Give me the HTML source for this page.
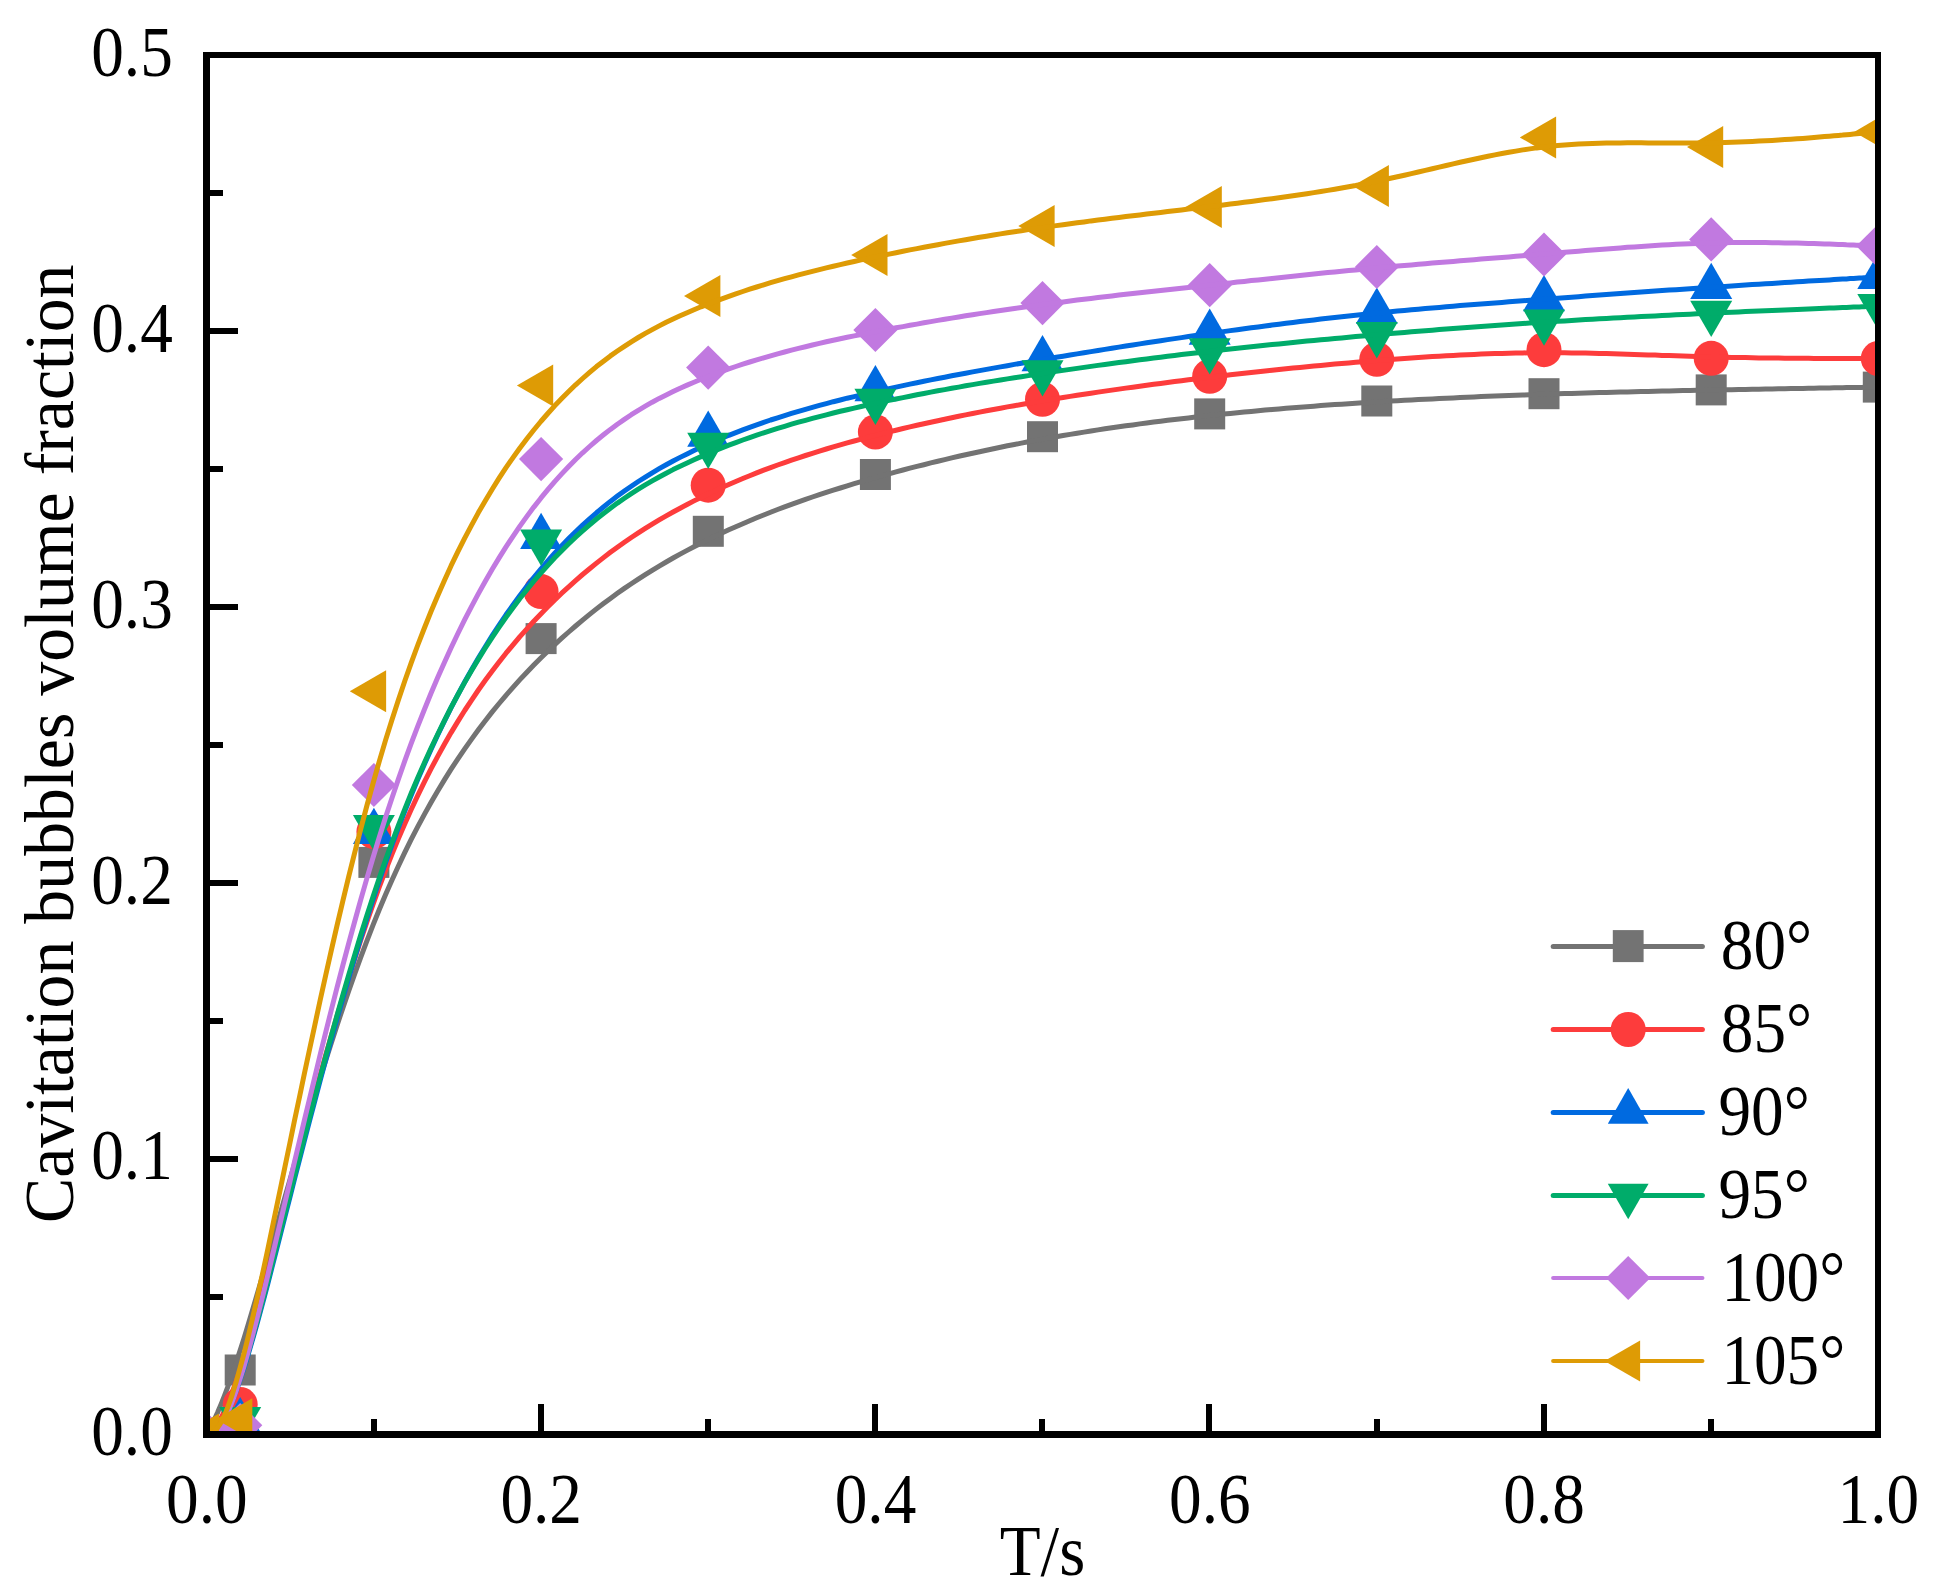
<!DOCTYPE html>
<html><head><meta charset="utf-8"><title>Cavitation bubbles volume fraction</title>
<style>html,body{margin:0;padding:0;background:#fff}svg{display:block}</style></head>
<body>
<svg width="1935" height="1592" viewBox="0 0 1935 1592">
<rect width="1935" height="1592" fill="#fff"/>
<defs><clipPath id="c"><rect x="206.5" y="55" width="1671.5" height="1379.5"/></clipPath></defs>
<g clip-path="url(#c)">
<rect x="191.3" y="1419.0" width="31" height="31" fill="#737373"/>
<rect x="224.7" y="1354.5" width="31" height="31" fill="#737373"/>
<rect x="358.4" y="846.9" width="31" height="31" fill="#737373"/>
<rect x="525.6" y="623.1" width="31" height="31" fill="#737373"/>
<rect x="692.8" y="515.8" width="31" height="31" fill="#737373"/>
<rect x="859.9" y="459.0" width="31" height="31" fill="#737373"/>
<rect x="1027.0" y="421.2" width="31" height="31" fill="#737373"/>
<rect x="1194.2" y="398.4" width="31" height="31" fill="#737373"/>
<rect x="1361.3" y="385.5" width="31" height="31" fill="#737373"/>
<rect x="1528.5" y="378.2" width="31" height="31" fill="#737373"/>
<rect x="1695.7" y="374.4" width="31" height="31" fill="#737373"/>
<rect x="1862.8" y="371.6" width="31" height="31" fill="#737373"/>
<path d="M206.5,1434.5 L206.5,1434.5 L206.5,1434.5 L206.5,1434.5 L206.5,1434.5 L206.6,1434.4 L206.6,1434.3 L206.6,1434.2 L206.7,1434.1 L206.8,1433.9 L206.9,1433.7 L207.0,1433.5 L207.2,1433.2 L207.4,1432.8 L207.6,1432.4 L207.9,1431.9 L208.2,1431.3 L208.5,1430.7 L208.9,1430.0 L209.3,1429.2 L209.7,1428.3 L210.2,1427.3 L210.8,1426.2 L211.4,1425.0 L212.1,1423.7 L212.8,1422.3 L213.6,1420.8 L214.4,1419.1 L215.4,1417.2 L216.4,1415.1 L217.5,1412.7 L218.6,1410.0 L219.9,1407.1 L221.3,1403.8 L222.7,1400.1 L224.3,1396.1 L226.0,1391.7 L227.8,1386.8 L229.7,1381.4 L231.8,1375.6 L233.9,1369.2 L236.3,1362.3 L238.7,1354.8 L241.3,1346.7 L244.1,1338.0 L247.0,1328.6 L250.0,1318.5 L253.2,1307.7 L256.6,1296.1 L260.2,1283.9 L264.0,1270.8 L267.9,1257.2 L271.9,1242.9 L276.1,1228.0 L280.5,1212.7 L285.0,1196.9 L289.7,1180.7 L294.4,1164.1 L299.4,1147.3 L304.4,1130.2 L309.6,1112.9 L314.9,1095.5 L320.2,1077.9 L325.7,1060.4 L331.3,1042.9 L337.0,1025.4 L342.8,1008.1 L348.7,991.0 L354.7,974.0 L360.7,957.4 L366.8,941.1 L373.0,925.2 L379.2,909.7 L385.5,894.7 L391.9,880.2 L398.3,866.2 L404.7,852.6 L411.2,839.4 L417.8,826.7 L424.4,814.4 L431.0,802.5 L437.7,791.0 L444.4,779.9 L451.1,769.2 L457.9,758.8 L464.7,748.8 L471.6,739.1 L478.4,729.8 L485.3,720.7 L492.2,711.9 L499.1,703.5 L506.0,695.3 L513.0,687.4 L519.9,679.7 L526.9,672.2 L533.8,665.0 L540.8,658.0 L547.8,651.2 L554.7,644.6 L561.7,638.2 L568.7,632.0 L575.6,626.0 L582.6,620.1 L589.6,614.4 L596.5,608.9 L603.5,603.5 L610.4,598.4 L617.4,593.3 L624.4,588.4 L631.3,583.7 L638.3,579.1 L645.3,574.6 L652.2,570.3 L659.2,566.1 L666.2,562.0 L673.1,558.0 L680.1,554.1 L687.1,550.4 L694.0,546.7 L701.0,543.2 L708.0,539.7 L714.9,536.3 L721.9,533.1 L728.8,529.8 L735.8,526.7 L742.8,523.7 L749.7,520.7 L756.7,517.8 L763.7,515.0 L770.6,512.2 L777.6,509.5 L784.6,506.9 L791.5,504.3 L798.5,501.8 L805.5,499.4 L812.4,497.0 L819.4,494.7 L826.3,492.4 L833.3,490.2 L840.3,488.0 L847.2,485.8 L854.2,483.7 L861.2,481.7 L868.1,479.7 L875.1,477.7 L882.1,475.7 L889.0,473.8 L896.0,471.9 L903.0,470.0 L909.9,468.2 L916.9,466.4 L923.9,464.7 L930.8,462.9 L937.8,461.2 L944.7,459.6 L951.7,457.9 L958.7,456.3 L965.6,454.7 L972.6,453.2 L979.6,451.7 L986.5,450.2 L993.5,448.7 L1000.5,447.3 L1007.4,445.8 L1014.4,444.5 L1021.4,443.1 L1028.3,441.8 L1035.3,440.5 L1042.2,439.2 L1049.2,438.0 L1056.2,436.7 L1063.1,435.5 L1070.1,434.4 L1077.1,433.2 L1084.0,432.1 L1091.0,431.0 L1098.0,429.9 L1104.9,428.8 L1111.9,427.8 L1118.9,426.8 L1125.8,425.8 L1132.8,424.9 L1139.8,423.9 L1146.7,423.0 L1153.7,422.1 L1160.6,421.2 L1167.6,420.3 L1174.6,419.5 L1181.5,418.7 L1188.5,417.9 L1195.5,417.1 L1202.4,416.3 L1209.4,415.5 L1216.4,414.8 L1223.3,414.1 L1230.3,413.4 L1237.3,412.7 L1244.2,412.0 L1251.2,411.4 L1258.2,410.7 L1265.1,410.1 L1272.1,409.5 L1279.0,408.9 L1286.0,408.3 L1293.0,407.8 L1299.9,407.2 L1306.9,406.7 L1313.9,406.2 L1320.8,405.6 L1327.8,405.1 L1334.8,404.6 L1341.7,404.2 L1348.7,403.7 L1355.7,403.2 L1362.6,402.8 L1369.6,402.4 L1376.5,401.9 L1383.5,401.5 L1390.5,401.1 L1397.4,400.7 L1404.4,400.3 L1411.4,399.9 L1418.3,399.6 L1425.3,399.2 L1432.3,398.9 L1439.2,398.5 L1446.2,398.2 L1453.2,397.9 L1460.1,397.5 L1467.1,397.2 L1474.1,396.9 L1481.0,396.6 L1488.0,396.3 L1494.9,396.1 L1501.9,395.8 L1508.9,395.5 L1515.8,395.3 L1522.8,395.0 L1529.8,394.8 L1536.7,394.5 L1543.7,394.3 L1550.7,394.1 L1557.6,393.8 L1564.6,393.6 L1571.6,393.4 L1578.5,393.2 L1585.5,393.0 L1592.5,392.8 L1599.4,392.6 L1606.4,392.4 L1613.3,392.2 L1620.3,392.1 L1627.3,391.9 L1634.2,391.7 L1641.2,391.6 L1648.2,391.4 L1655.1,391.2 L1662.1,391.1 L1669.1,390.9 L1676.0,390.8 L1683.0,390.6 L1690.0,390.5 L1696.9,390.3 L1703.9,390.2 L1710.8,390.1 L1717.8,389.9 L1724.8,389.8 L1731.7,389.7 L1738.6,389.5 L1745.4,389.4 L1752.2,389.3 L1758.9,389.2 L1765.5,389.0 L1772.1,388.9 L1778.5,388.8 L1784.8,388.7 L1790.9,388.6 L1797.0,388.5 L1802.8,388.4 L1808.5,388.3 L1814.0,388.2 L1819.3,388.1 L1824.5,388.0 L1829.4,387.9 L1834.0,387.8 L1838.4,387.8 L1842.6,387.7 L1846.5,387.6 L1850.1,387.6 L1853.5,387.5 L1856.5,387.5 L1859.3,387.4 L1861.9,387.4 L1864.2,387.3 L1866.2,387.3 L1868.1,387.3 L1869.7,387.2 L1871.2,387.2 L1872.5,387.2 L1873.6,387.2 L1874.5,387.2 L1875.3,387.1 L1876.0,387.1 L1876.5,387.1 L1877.0,387.1 L1877.3,387.1 L1877.6,387.1 L1877.7,387.1 L1877.9,387.1 L1877.9,387.1 L1878.0,387.1 L1878.0,387.1 L1878.0,387.1" fill="none" stroke="#737373" stroke-width="5" stroke-linejoin="round"/>
<circle cx="206.8" cy="1434.5" r="17.5" fill="#FD3C3C"/>
<circle cx="240.2" cy="1404.5" r="17.5" fill="#FD3C3C"/>
<circle cx="373.9" cy="831.7" r="17.5" fill="#FD3C3C"/>
<circle cx="541.1" cy="591.6" r="17.5" fill="#FD3C3C"/>
<circle cx="708.2" cy="485.2" r="17.5" fill="#FD3C3C"/>
<circle cx="875.4" cy="432.0" r="17.5" fill="#FD3C3C"/>
<circle cx="1042.5" cy="399.3" r="17.5" fill="#FD3C3C"/>
<circle cx="1209.7" cy="376.3" r="17.5" fill="#FD3C3C"/>
<circle cx="1376.8" cy="359.3" r="17.5" fill="#FD3C3C"/>
<circle cx="1544.0" cy="349.7" r="17.5" fill="#FD3C3C"/>
<circle cx="1711.2" cy="358.3" r="17.5" fill="#FD3C3C"/>
<circle cx="1878.3" cy="358.5" r="17.5" fill="#FD3C3C"/>
<path d="M206.5,1434.5 L206.5,1434.5 L206.5,1434.5 L206.5,1434.5 L206.5,1434.5 L206.6,1434.5 L206.6,1434.4 L206.6,1434.4 L206.7,1434.3 L206.8,1434.2 L206.9,1434.1 L207.0,1434.0 L207.2,1433.9 L207.4,1433.7 L207.6,1433.5 L207.9,1433.3 L208.2,1433.0 L208.5,1432.7 L208.9,1432.4 L209.3,1432.0 L209.7,1431.6 L210.2,1431.2 L210.8,1430.6 L211.4,1430.1 L212.1,1429.5 L212.8,1428.8 L213.6,1428.1 L214.4,1427.2 L215.4,1426.2 L216.4,1425.0 L217.5,1423.5 L218.6,1421.7 L219.9,1419.7 L221.3,1417.3 L222.7,1414.5 L224.3,1411.2 L226.0,1407.6 L227.8,1403.4 L229.7,1398.7 L231.8,1393.4 L233.9,1387.5 L236.3,1381.0 L238.7,1373.8 L241.3,1365.8 L244.1,1357.1 L247.0,1347.6 L250.0,1337.3 L253.2,1326.1 L256.6,1314.0 L260.2,1301.0 L264.0,1287.1 L267.9,1272.4 L271.9,1256.9 L276.1,1240.8 L280.5,1224.0 L285.0,1206.7 L289.7,1188.8 L294.4,1170.5 L299.4,1151.9 L304.4,1132.9 L309.6,1113.7 L314.9,1094.3 L320.2,1074.8 L325.7,1055.3 L331.3,1035.7 L337.0,1016.2 L342.8,996.9 L348.7,977.7 L354.7,958.8 L360.7,940.3 L366.8,922.1 L373.0,904.4 L379.2,887.1 L385.5,870.5 L391.9,854.4 L398.3,838.9 L404.7,823.9 L411.2,809.4 L417.8,795.4 L424.4,781.9 L431.0,768.9 L437.7,756.4 L444.4,744.3 L451.1,732.6 L457.9,721.4 L464.7,710.5 L471.6,700.1 L478.4,690.0 L485.3,680.3 L492.2,670.9 L499.1,661.9 L506.0,653.2 L513.0,644.8 L519.9,636.6 L526.9,628.8 L533.8,621.2 L540.8,613.9 L547.8,606.8 L554.7,599.9 L561.7,593.2 L568.7,586.8 L575.6,580.6 L582.6,574.5 L589.6,568.7 L596.5,563.1 L603.5,557.6 L610.4,552.3 L617.4,547.2 L624.4,542.3 L631.3,537.5 L638.3,532.9 L645.3,528.4 L652.2,524.1 L659.2,519.9 L666.2,515.9 L673.1,512.0 L680.1,508.2 L687.1,504.5 L694.0,500.9 L701.0,497.4 L708.0,494.1 L714.9,490.8 L721.9,487.6 L728.8,484.5 L735.8,481.5 L742.8,478.5 L749.7,475.7 L756.7,472.9 L763.7,470.2 L770.6,467.6 L777.6,465.0 L784.6,462.6 L791.5,460.1 L798.5,457.8 L805.5,455.5 L812.4,453.3 L819.4,451.1 L826.3,449.0 L833.3,446.9 L840.3,444.9 L847.2,442.9 L854.2,441.0 L861.2,439.1 L868.1,437.2 L875.1,435.4 L882.1,433.6 L889.0,431.9 L896.0,430.2 L903.0,428.5 L909.9,426.9 L916.9,425.3 L923.9,423.7 L930.8,422.2 L937.8,420.7 L944.7,419.2 L951.7,417.7 L958.7,416.3 L965.6,414.9 L972.6,413.5 L979.6,412.1 L986.5,410.8 L993.5,409.5 L1000.5,408.2 L1007.4,406.9 L1014.4,405.7 L1021.4,404.5 L1028.3,403.3 L1035.3,402.1 L1042.2,400.9 L1049.2,399.8 L1056.2,398.6 L1063.1,397.5 L1070.1,396.4 L1077.1,395.3 L1084.0,394.2 L1091.0,393.2 L1098.0,392.1 L1104.9,391.1 L1111.9,390.1 L1118.9,389.1 L1125.8,388.1 L1132.8,387.2 L1139.8,386.2 L1146.7,385.3 L1153.7,384.3 L1160.6,383.4 L1167.6,382.5 L1174.6,381.6 L1181.5,380.7 L1188.5,379.8 L1195.5,379.0 L1202.4,378.1 L1209.4,377.3 L1216.4,376.5 L1223.3,375.7 L1230.3,374.8 L1237.3,374.1 L1244.2,373.3 L1251.2,372.5 L1258.2,371.7 L1265.1,371.0 L1272.1,370.2 L1279.0,369.5 L1286.0,368.8 L1293.0,368.1 L1299.9,367.4 L1306.9,366.7 L1313.9,366.0 L1320.8,365.4 L1327.8,364.7 L1334.8,364.1 L1341.7,363.5 L1348.7,362.9 L1355.7,362.3 L1362.6,361.7 L1369.6,361.1 L1376.5,360.5 L1383.5,360.0 L1390.5,359.5 L1397.4,358.9 L1404.4,358.4 L1411.4,357.9 L1418.3,357.5 L1425.3,357.0 L1432.3,356.6 L1439.2,356.2 L1446.2,355.8 L1453.2,355.4 L1460.1,355.0 L1467.1,354.7 L1474.1,354.4 L1481.0,354.1 L1488.0,353.8 L1494.9,353.6 L1501.9,353.4 L1508.9,353.2 L1515.8,353.1 L1522.8,352.9 L1529.8,352.8 L1536.7,352.8 L1543.7,352.7 L1550.7,352.7 L1557.6,352.8 L1564.6,352.8 L1571.6,352.9 L1578.5,353.0 L1585.5,353.1 L1592.5,353.3 L1599.4,353.4 L1606.4,353.6 L1613.3,353.8 L1620.3,354.0 L1627.3,354.2 L1634.2,354.4 L1641.2,354.7 L1648.2,354.9 L1655.1,355.1 L1662.1,355.4 L1669.1,355.6 L1676.0,355.8 L1683.0,356.1 L1690.0,356.3 L1696.9,356.5 L1703.9,356.7 L1710.8,356.9 L1717.8,357.1 L1724.8,357.2 L1731.7,357.4 L1738.6,357.5 L1745.4,357.6 L1752.2,357.8 L1758.9,357.9 L1765.5,358.0 L1772.1,358.0 L1778.5,358.1 L1784.8,358.2 L1790.9,358.2 L1797.0,358.3 L1802.8,358.3 L1808.5,358.3 L1814.0,358.4 L1819.3,358.4 L1824.5,358.4 L1829.4,358.4 L1834.0,358.4 L1838.4,358.4 L1842.6,358.5 L1846.5,358.5 L1850.1,358.5 L1853.5,358.5 L1856.5,358.5 L1859.3,358.5 L1861.9,358.5 L1864.2,358.5 L1866.2,358.5 L1868.1,358.5 L1869.7,358.5 L1871.2,358.5 L1872.5,358.5 L1873.6,358.5 L1874.5,358.5 L1875.3,358.5 L1876.0,358.5 L1876.5,358.5 L1877.0,358.5 L1877.3,358.5 L1877.6,358.5 L1877.7,358.5 L1877.9,358.5 L1877.9,358.5 L1878.0,358.5 L1878.0,358.5 L1878.0,358.5" fill="none" stroke="#FD3C3C" stroke-width="5" stroke-linejoin="round"/>
<polygon points="206.8,1410.3 185.8,1446.6 227.8,1446.6" fill="#006AE0"/>
<polygon points="240.2,1397.0 219.2,1433.3 261.2,1433.3" fill="#006AE0"/>
<polygon points="373.9,807.8 352.9,844.1 394.9,844.1" fill="#006AE0"/>
<polygon points="541.1,512.8 520.1,549.1 562.1,549.1" fill="#006AE0"/>
<polygon points="708.2,410.5 687.2,446.8 729.2,446.8" fill="#006AE0"/>
<polygon points="875.4,364.9 854.4,401.2 896.4,401.2" fill="#006AE0"/>
<polygon points="1042.5,334.9 1021.5,371.2 1063.5,371.2" fill="#006AE0"/>
<polygon points="1209.7,308.4 1188.7,344.7 1230.7,344.7" fill="#006AE0"/>
<polygon points="1376.8,287.5 1355.8,323.8 1397.8,323.8" fill="#006AE0"/>
<polygon points="1544.0,275.0 1523.0,311.3 1565.0,311.3" fill="#006AE0"/>
<polygon points="1711.2,262.7 1690.2,299.0 1732.2,299.0" fill="#006AE0"/>
<polygon points="1878.3,252.8 1857.3,289.1 1899.3,289.1" fill="#006AE0"/>
<path d="M206.5,1434.5 L206.5,1434.5 L206.5,1434.5 L206.5,1434.5 L206.5,1434.5 L206.6,1434.5 L206.6,1434.5 L206.6,1434.4 L206.7,1434.4 L206.8,1434.4 L206.9,1434.3 L207.0,1434.3 L207.2,1434.2 L207.4,1434.1 L207.6,1434.1 L207.9,1434.0 L208.2,1433.8 L208.5,1433.7 L208.9,1433.6 L209.3,1433.4 L209.7,1433.2 L210.2,1433.0 L210.8,1432.8 L211.4,1432.5 L212.1,1432.3 L212.8,1432.0 L213.6,1431.6 L214.4,1431.2 L215.4,1430.6 L216.4,1429.8 L217.5,1428.7 L218.6,1427.5 L219.9,1425.9 L221.3,1423.9 L222.7,1421.6 L224.3,1418.8 L226.0,1415.6 L227.8,1411.8 L229.7,1407.5 L231.8,1402.6 L233.9,1397.1 L236.3,1390.9 L238.7,1384.0 L241.3,1376.3 L244.1,1367.9 L247.0,1358.6 L250.0,1348.4 L253.2,1337.3 L256.6,1325.2 L260.2,1312.2 L264.0,1298.2 L267.9,1283.3 L271.9,1267.7 L276.1,1251.3 L280.5,1234.2 L285.0,1216.5 L289.7,1198.2 L294.4,1179.4 L299.4,1160.2 L304.4,1140.6 L309.6,1120.7 L314.9,1100.6 L320.2,1080.3 L325.7,1059.9 L331.3,1039.4 L337.0,1018.9 L342.8,998.5 L348.7,978.2 L354.7,958.1 L360.7,938.3 L366.8,918.8 L373.0,899.7 L379.2,881.0 L385.5,862.9 L391.9,845.2 L398.3,828.0 L404.7,811.4 L411.2,795.2 L417.8,779.4 L424.4,764.2 L431.0,749.4 L437.7,735.0 L444.4,721.1 L451.1,707.7 L457.9,694.6 L464.7,682.0 L471.6,669.8 L478.4,658.1 L485.3,646.7 L492.2,635.7 L499.1,625.1 L506.0,614.8 L513.0,605.0 L519.9,595.5 L526.9,586.3 L533.8,577.6 L540.8,569.1 L547.8,561.0 L554.7,553.2 L561.7,545.7 L568.7,538.6 L575.6,531.7 L582.6,525.1 L589.6,518.8 L596.5,512.8 L603.5,507.0 L610.4,501.4 L617.4,496.1 L624.4,491.0 L631.3,486.2 L638.3,481.5 L645.3,477.1 L652.2,472.8 L659.2,468.7 L666.2,464.8 L673.1,461.0 L680.1,457.4 L687.1,453.9 L694.0,450.5 L701.0,447.3 L708.0,444.1 L714.9,441.1 L721.9,438.2 L728.8,435.3 L735.8,432.6 L742.8,429.9 L749.7,427.3 L756.7,424.8 L763.7,422.4 L770.6,420.0 L777.6,417.8 L784.6,415.6 L791.5,413.4 L798.5,411.3 L805.5,409.3 L812.4,407.3 L819.4,405.4 L826.3,403.6 L833.3,401.7 L840.3,400.0 L847.2,398.2 L854.2,396.6 L861.2,394.9 L868.1,393.3 L875.1,391.7 L882.1,390.1 L889.0,388.6 L896.0,387.1 L903.0,385.6 L909.9,384.1 L916.9,382.7 L923.9,381.3 L930.8,379.9 L937.8,378.5 L944.7,377.2 L951.7,375.8 L958.7,374.5 L965.6,373.2 L972.6,371.9 L979.6,370.6 L986.5,369.4 L993.5,368.1 L1000.5,366.9 L1007.4,365.7 L1014.4,364.4 L1021.4,363.2 L1028.3,362.1 L1035.3,360.9 L1042.2,359.7 L1049.2,358.5 L1056.2,357.3 L1063.1,356.2 L1070.1,355.0 L1077.1,353.9 L1084.0,352.7 L1091.0,351.6 L1098.0,350.5 L1104.9,349.4 L1111.9,348.2 L1118.9,347.1 L1125.8,346.0 L1132.8,345.0 L1139.8,343.9 L1146.7,342.8 L1153.7,341.7 L1160.6,340.7 L1167.6,339.6 L1174.6,338.6 L1181.5,337.6 L1188.5,336.5 L1195.5,335.5 L1202.4,334.5 L1209.4,333.5 L1216.4,332.6 L1223.3,331.6 L1230.3,330.6 L1237.3,329.7 L1244.2,328.7 L1251.2,327.8 L1258.2,326.9 L1265.1,326.0 L1272.1,325.1 L1279.0,324.2 L1286.0,323.3 L1293.0,322.4 L1299.9,321.6 L1306.9,320.8 L1313.9,319.9 L1320.8,319.1 L1327.8,318.3 L1334.8,317.5 L1341.7,316.8 L1348.7,316.0 L1355.7,315.3 L1362.6,314.5 L1369.6,313.8 L1376.5,313.1 L1383.5,312.4 L1390.5,311.7 L1397.4,311.1 L1404.4,310.4 L1411.4,309.8 L1418.3,309.2 L1425.3,308.6 L1432.3,307.9 L1439.2,307.4 L1446.2,306.8 L1453.2,306.2 L1460.1,305.6 L1467.1,305.1 L1474.1,304.5 L1481.0,304.0 L1488.0,303.4 L1494.9,302.9 L1501.9,302.4 L1508.9,301.8 L1515.8,301.3 L1522.8,300.8 L1529.8,300.3 L1536.7,299.8 L1543.7,299.2 L1550.7,298.7 L1557.6,298.2 L1564.6,297.7 L1571.6,297.2 L1578.5,296.7 L1585.5,296.1 L1592.5,295.6 L1599.4,295.1 L1606.4,294.6 L1613.3,294.1 L1620.3,293.6 L1627.3,293.1 L1634.2,292.6 L1641.2,292.1 L1648.2,291.6 L1655.1,291.1 L1662.1,290.6 L1669.1,290.1 L1676.0,289.7 L1683.0,289.2 L1690.0,288.7 L1696.9,288.2 L1703.9,287.8 L1710.8,287.3 L1717.8,286.8 L1724.8,286.4 L1731.7,285.9 L1738.6,285.5 L1745.4,285.1 L1752.2,284.6 L1758.9,284.2 L1765.5,283.8 L1772.1,283.4 L1778.5,283.0 L1784.8,282.6 L1790.9,282.2 L1797.0,281.8 L1802.8,281.5 L1808.5,281.1 L1814.0,280.8 L1819.3,280.5 L1824.5,280.2 L1829.4,279.9 L1834.0,279.6 L1838.4,279.3 L1842.6,279.1 L1846.5,278.9 L1850.1,278.6 L1853.5,278.5 L1856.5,278.3 L1859.3,278.1 L1861.9,278.0 L1864.2,277.8 L1866.2,277.7 L1868.1,277.6 L1869.7,277.5 L1871.2,277.4 L1872.5,277.3 L1873.6,277.3 L1874.5,277.2 L1875.3,277.2 L1876.0,277.1 L1876.5,277.1 L1877.0,277.1 L1877.3,277.0 L1877.6,277.0 L1877.7,277.0 L1877.9,277.0 L1877.9,277.0 L1878.0,277.0 L1878.0,277.0 L1878.0,277.0" fill="none" stroke="#006AE0" stroke-width="5" stroke-linejoin="round"/>
<polygon points="206.8,1458.7 185.8,1422.4 227.8,1422.4" fill="#00AC6A"/>
<polygon points="240.2,1443.3 219.2,1407.0 261.2,1407.0" fill="#00AC6A"/>
<polygon points="373.9,851.3 352.9,815.0 394.9,815.0" fill="#00AC6A"/>
<polygon points="541.1,565.9 520.1,529.6 562.1,529.6" fill="#00AC6A"/>
<polygon points="708.2,469.0 687.2,432.7 729.2,432.7" fill="#00AC6A"/>
<polygon points="875.4,425.0 854.4,388.7 896.4,388.7" fill="#00AC6A"/>
<polygon points="1042.5,396.6 1021.5,360.3 1063.5,360.3" fill="#00AC6A"/>
<polygon points="1209.7,374.6 1188.7,338.3 1230.7,338.3" fill="#00AC6A"/>
<polygon points="1376.8,358.4 1355.8,322.1 1397.8,322.1" fill="#00AC6A"/>
<polygon points="1544.0,345.7 1523.0,309.4 1565.0,309.4" fill="#00AC6A"/>
<polygon points="1711.2,337.1 1690.2,300.8 1732.2,300.8" fill="#00AC6A"/>
<polygon points="1878.3,330.3 1857.3,294.0 1899.3,294.0" fill="#00AC6A"/>
<path d="M206.5,1434.5 L206.5,1434.5 L206.5,1434.5 L206.5,1434.5 L206.5,1434.5 L206.6,1434.5 L206.6,1434.5 L206.6,1434.4 L206.7,1434.4 L206.8,1434.4 L206.9,1434.3 L207.0,1434.3 L207.2,1434.2 L207.4,1434.1 L207.6,1434.0 L207.9,1433.9 L208.2,1433.7 L208.5,1433.6 L208.9,1433.4 L209.3,1433.2 L209.7,1433.0 L210.2,1432.8 L210.8,1432.5 L211.4,1432.2 L212.1,1431.9 L212.8,1431.6 L213.6,1431.2 L214.4,1430.7 L215.4,1430.0 L216.4,1429.1 L217.5,1428.1 L218.6,1426.7 L219.9,1425.0 L221.3,1423.0 L222.7,1420.6 L224.3,1417.8 L226.0,1414.5 L227.8,1410.6 L229.7,1406.3 L231.8,1401.3 L233.9,1395.7 L236.3,1389.4 L238.7,1382.4 L241.3,1374.6 L244.1,1366.0 L247.0,1356.6 L250.0,1346.4 L253.2,1335.2 L256.6,1323.0 L260.2,1309.9 L264.0,1295.8 L267.9,1280.8 L271.9,1265.1 L276.1,1248.5 L280.5,1231.4 L285.0,1213.5 L289.7,1195.2 L294.4,1176.3 L299.4,1157.1 L304.4,1137.4 L309.6,1117.5 L314.9,1097.3 L320.2,1077.0 L325.7,1056.5 L331.3,1036.0 L337.0,1015.5 L342.8,995.2 L348.7,974.9 L354.7,954.9 L360.7,935.1 L366.8,915.7 L373.0,896.7 L379.2,878.2 L385.5,860.2 L391.9,842.7 L398.3,825.7 L404.7,809.3 L411.2,793.3 L417.8,777.8 L424.4,762.8 L431.0,748.3 L437.7,734.2 L444.4,720.6 L451.1,707.4 L457.9,694.7 L464.7,682.4 L471.6,670.5 L478.4,659.1 L485.3,648.0 L492.2,637.4 L499.1,627.1 L506.0,617.2 L513.0,607.7 L519.9,598.5 L526.9,589.7 L533.8,581.2 L540.8,573.1 L547.8,565.3 L554.7,557.8 L561.7,550.7 L568.7,543.8 L575.6,537.2 L582.6,530.9 L589.6,524.8 L596.5,519.0 L603.5,513.5 L610.4,508.2 L617.4,503.1 L624.4,498.3 L631.3,493.6 L638.3,489.2 L645.3,484.9 L652.2,480.9 L659.2,477.0 L666.2,473.2 L673.1,469.6 L680.1,466.2 L687.1,462.9 L694.0,459.7 L701.0,456.6 L708.0,453.6 L714.9,450.7 L721.9,447.9 L728.8,445.2 L735.8,442.6 L742.8,440.0 L749.7,437.6 L756.7,435.2 L763.7,432.8 L770.6,430.6 L777.6,428.4 L784.6,426.3 L791.5,424.2 L798.5,422.2 L805.5,420.3 L812.4,418.4 L819.4,416.6 L826.3,414.8 L833.3,413.0 L840.3,411.3 L847.2,409.7 L854.2,408.1 L861.2,406.5 L868.1,404.9 L875.1,403.4 L882.1,401.9 L889.0,400.4 L896.0,399.0 L903.0,397.6 L909.9,396.2 L916.9,394.8 L923.9,393.5 L930.8,392.1 L937.8,390.8 L944.7,389.6 L951.7,388.3 L958.7,387.1 L965.6,385.8 L972.6,384.6 L979.6,383.4 L986.5,382.3 L993.5,381.1 L1000.5,380.0 L1007.4,378.9 L1014.4,377.8 L1021.4,376.7 L1028.3,375.6 L1035.3,374.5 L1042.2,373.5 L1049.2,372.4 L1056.2,371.4 L1063.1,370.4 L1070.1,369.4 L1077.1,368.4 L1084.0,367.4 L1091.0,366.4 L1098.0,365.4 L1104.9,364.5 L1111.9,363.5 L1118.9,362.6 L1125.8,361.7 L1132.8,360.7 L1139.8,359.8 L1146.7,358.9 L1153.7,358.1 L1160.6,357.2 L1167.6,356.3 L1174.6,355.5 L1181.5,354.6 L1188.5,353.8 L1195.5,353.0 L1202.4,352.2 L1209.4,351.4 L1216.4,350.6 L1223.3,349.8 L1230.3,349.0 L1237.3,348.3 L1244.2,347.5 L1251.2,346.8 L1258.2,346.0 L1265.1,345.3 L1272.1,344.6 L1279.0,343.9 L1286.0,343.2 L1293.0,342.5 L1299.9,341.8 L1306.9,341.1 L1313.9,340.5 L1320.8,339.8 L1327.8,339.2 L1334.8,338.5 L1341.7,337.9 L1348.7,337.2 L1355.7,336.6 L1362.6,336.0 L1369.6,335.4 L1376.5,334.8 L1383.5,334.2 L1390.5,333.6 L1397.4,333.0 L1404.4,332.4 L1411.4,331.8 L1418.3,331.3 L1425.3,330.7 L1432.3,330.2 L1439.2,329.6 L1446.2,329.1 L1453.2,328.5 L1460.1,328.0 L1467.1,327.5 L1474.1,327.0 L1481.0,326.5 L1488.0,326.0 L1494.9,325.5 L1501.9,325.0 L1508.9,324.5 L1515.8,324.0 L1522.8,323.5 L1529.8,323.1 L1536.7,322.6 L1543.7,322.2 L1550.7,321.7 L1557.6,321.3 L1564.6,320.9 L1571.6,320.5 L1578.5,320.1 L1585.5,319.6 L1592.5,319.2 L1599.4,318.8 L1606.4,318.5 L1613.3,318.1 L1620.3,317.7 L1627.3,317.3 L1634.2,317.0 L1641.2,316.6 L1648.2,316.2 L1655.1,315.9 L1662.1,315.5 L1669.1,315.2 L1676.0,314.8 L1683.0,314.5 L1690.0,314.2 L1696.9,313.8 L1703.9,313.5 L1710.8,313.2 L1717.8,312.9 L1724.8,312.6 L1731.7,312.3 L1738.6,311.9 L1745.4,311.6 L1752.2,311.3 L1758.9,311.1 L1765.5,310.8 L1772.1,310.5 L1778.5,310.2 L1784.8,309.9 L1790.9,309.7 L1797.0,309.4 L1802.8,309.2 L1808.5,308.9 L1814.0,308.7 L1819.3,308.5 L1824.5,308.3 L1829.4,308.1 L1834.0,307.9 L1838.4,307.7 L1842.6,307.5 L1846.5,307.4 L1850.1,307.2 L1853.5,307.1 L1856.5,307.0 L1859.3,306.9 L1861.9,306.8 L1864.2,306.7 L1866.2,306.6 L1868.1,306.5 L1869.7,306.4 L1871.2,306.4 L1872.5,306.3 L1873.6,306.3 L1874.5,306.2 L1875.3,306.2 L1876.0,306.2 L1876.5,306.2 L1877.0,306.1 L1877.3,306.1 L1877.6,306.1 L1877.7,306.1 L1877.9,306.1 L1877.9,306.1 L1878.0,306.1 L1878.0,306.1 L1878.0,306.1" fill="none" stroke="#00AC6A" stroke-width="5" stroke-linejoin="round"/>
<polygon points="206.8,1412.4 228.9,1434.5 206.8,1456.6 184.7,1434.5" fill="#C179E0"/>
<polygon points="240.2,1403.1 262.3,1425.2 240.2,1447.3 218.1,1425.2" fill="#C179E0"/>
<polygon points="373.9,762.9 396.1,785.0 373.9,807.1 351.8,785.0" fill="#C179E0"/>
<polygon points="541.1,437.0 563.2,459.1 541.1,481.2 519.0,459.1" fill="#C179E0"/>
<polygon points="708.2,345.5 730.4,367.6 708.2,389.7 686.1,367.6" fill="#C179E0"/>
<polygon points="875.4,307.9 897.5,330.0 875.4,352.1 853.3,330.0" fill="#C179E0"/>
<polygon points="1042.5,281.0 1064.6,303.1 1042.5,325.2 1020.4,303.1" fill="#C179E0"/>
<polygon points="1209.7,263.1 1231.8,285.2 1209.7,307.3 1187.6,285.2" fill="#C179E0"/>
<polygon points="1376.8,244.9 1398.9,267.0 1376.8,289.1 1354.8,267.0" fill="#C179E0"/>
<polygon points="1544.0,232.4 1566.1,254.5 1544.0,276.6 1521.9,254.5" fill="#C179E0"/>
<polygon points="1711.2,217.3 1733.2,239.4 1711.2,261.5 1689.1,239.4" fill="#C179E0"/>
<polygon points="1878.3,223.9 1900.4,246.0 1878.3,268.1 1856.2,246.0" fill="#C179E0"/>
<path d="M206.5,1434.5 L206.5,1434.5 L206.5,1434.5 L206.5,1434.5 L206.5,1434.5 L206.6,1434.5 L206.6,1434.5 L206.6,1434.5 L206.7,1434.4 L206.8,1434.4 L206.9,1434.4 L207.0,1434.4 L207.2,1434.3 L207.4,1434.3 L207.6,1434.2 L207.9,1434.1 L208.2,1434.0 L208.5,1433.9 L208.9,1433.8 L209.3,1433.7 L209.7,1433.6 L210.2,1433.5 L210.8,1433.3 L211.4,1433.1 L212.1,1432.9 L212.8,1432.7 L213.6,1432.5 L214.4,1432.1 L215.4,1431.6 L216.4,1430.8 L217.5,1429.9 L218.6,1428.6 L219.9,1427.0 L221.3,1425.1 L222.7,1422.7 L224.3,1419.9 L226.0,1416.5 L227.8,1412.6 L229.7,1408.1 L231.8,1402.9 L233.9,1397.1 L236.3,1390.5 L238.7,1383.1 L241.3,1375.0 L244.1,1365.9 L247.0,1355.9 L250.0,1345.0 L253.2,1333.0 L256.6,1320.0 L260.2,1306.0 L264.0,1290.9 L267.9,1274.8 L271.9,1257.9 L276.1,1240.1 L280.5,1221.6 L285.0,1202.4 L289.7,1182.6 L294.4,1162.2 L299.4,1141.4 L304.4,1120.1 L309.6,1098.5 L314.9,1076.6 L320.2,1054.5 L325.7,1032.3 L331.3,1010.0 L337.0,987.7 L342.8,965.5 L348.7,943.4 L354.7,921.5 L360.7,899.9 L366.8,878.6 L373.0,857.8 L379.2,837.4 L385.5,817.5 L391.9,798.2 L398.3,779.4 L404.7,761.2 L411.2,743.4 L417.8,726.2 L424.4,709.5 L431.0,693.3 L437.7,677.6 L444.4,662.4 L451.1,647.7 L457.9,633.5 L464.7,619.7 L471.6,606.4 L478.4,593.6 L485.3,581.2 L492.2,569.3 L499.1,557.9 L506.0,546.9 L513.0,536.3 L519.9,526.1 L526.9,516.4 L533.8,507.1 L540.8,498.2 L547.8,489.7 L554.7,481.6 L561.7,473.9 L568.7,466.5 L575.6,459.5 L582.6,452.8 L589.6,446.5 L596.5,440.5 L603.5,434.8 L610.4,429.4 L617.4,424.2 L624.4,419.4 L631.3,414.7 L638.3,410.3 L645.3,406.2 L652.2,402.2 L659.2,398.4 L666.2,394.9 L673.1,391.5 L680.1,388.2 L687.1,385.1 L694.0,382.2 L701.0,379.3 L708.0,376.6 L714.9,373.9 L721.9,371.4 L728.8,368.9 L735.8,366.5 L742.8,364.2 L749.7,362.0 L756.7,359.9 L763.7,357.8 L770.6,355.8 L777.6,353.8 L784.6,352.0 L791.5,350.1 L798.5,348.4 L805.5,346.7 L812.4,345.0 L819.4,343.4 L826.3,341.8 L833.3,340.3 L840.3,338.8 L847.2,337.3 L854.2,335.9 L861.2,334.5 L868.1,333.1 L875.1,331.8 L882.1,330.4 L889.0,329.1 L896.0,327.8 L903.0,326.6 L909.9,325.3 L916.9,324.1 L923.9,322.8 L930.8,321.6 L937.8,320.4 L944.7,319.3 L951.7,318.1 L958.7,317.0 L965.6,315.8 L972.6,314.7 L979.6,313.6 L986.5,312.6 L993.5,311.5 L1000.5,310.5 L1007.4,309.5 L1014.4,308.5 L1021.4,307.5 L1028.3,306.5 L1035.3,305.5 L1042.2,304.6 L1049.2,303.7 L1056.2,302.8 L1063.1,301.9 L1070.1,301.0 L1077.1,300.1 L1084.0,299.3 L1091.0,298.4 L1098.0,297.6 L1104.9,296.8 L1111.9,295.9 L1118.9,295.1 L1125.8,294.3 L1132.8,293.5 L1139.8,292.8 L1146.7,292.0 L1153.7,291.2 L1160.6,290.4 L1167.6,289.7 L1174.6,288.9 L1181.5,288.2 L1188.5,287.4 L1195.5,286.7 L1202.4,285.9 L1209.4,285.1 L1216.4,284.4 L1223.3,283.6 L1230.3,282.9 L1237.3,282.1 L1244.2,281.4 L1251.2,280.6 L1258.2,279.9 L1265.1,279.2 L1272.1,278.4 L1279.0,277.7 L1286.0,276.9 L1293.0,276.2 L1299.9,275.5 L1306.9,274.8 L1313.9,274.1 L1320.8,273.3 L1327.8,272.6 L1334.8,271.9 L1341.7,271.3 L1348.7,270.6 L1355.7,269.9 L1362.6,269.2 L1369.6,268.6 L1376.5,267.9 L1383.5,267.3 L1390.5,266.7 L1397.4,266.1 L1404.4,265.5 L1411.4,264.9 L1418.3,264.3 L1425.3,263.7 L1432.3,263.1 L1439.2,262.5 L1446.2,261.9 L1453.2,261.4 L1460.1,260.8 L1467.1,260.3 L1474.1,259.7 L1481.0,259.1 L1488.0,258.6 L1494.9,258.0 L1501.9,257.5 L1508.9,256.9 L1515.8,256.3 L1522.8,255.8 L1529.8,255.2 L1536.7,254.6 L1543.7,254.1 L1550.7,253.5 L1557.6,252.9 L1564.6,252.3 L1571.6,251.7 L1578.5,251.2 L1585.5,250.6 L1592.5,250.0 L1599.4,249.5 L1606.4,248.9 L1613.3,248.4 L1620.3,247.9 L1627.3,247.3 L1634.2,246.9 L1641.2,246.4 L1648.2,245.9 L1655.1,245.5 L1662.1,245.1 L1669.1,244.7 L1676.0,244.3 L1683.0,244.0 L1690.0,243.7 L1696.9,243.4 L1703.9,243.2 L1710.8,243.0 L1717.8,242.9 L1724.8,242.7 L1731.7,242.6 L1738.6,242.6 L1745.4,242.6 L1752.2,242.6 L1758.9,242.6 L1765.5,242.6 L1772.1,242.7 L1778.5,242.8 L1784.8,242.9 L1790.9,243.0 L1797.0,243.1 L1802.8,243.3 L1808.5,243.4 L1814.0,243.6 L1819.3,243.8 L1824.5,243.9 L1829.4,244.1 L1834.0,244.3 L1838.4,244.4 L1842.6,244.6 L1846.5,244.8 L1850.1,244.9 L1853.5,245.0 L1856.5,245.2 L1859.3,245.3 L1861.9,245.4 L1864.2,245.5 L1866.2,245.5 L1868.1,245.6 L1869.7,245.7 L1871.2,245.7 L1872.5,245.8 L1873.6,245.8 L1874.5,245.9 L1875.3,245.9 L1876.0,245.9 L1876.5,245.9 L1877.0,246.0 L1877.3,246.0 L1877.6,246.0 L1877.7,246.0 L1877.9,246.0 L1877.9,246.0 L1878.0,246.0 L1878.0,246.0 L1878.0,246.0" fill="none" stroke="#C179E0" stroke-width="5" stroke-linejoin="round"/>
<polygon points="182.6,1434.5 218.9,1413.5 218.9,1455.5" fill="#DE9B05"/>
<polygon points="216.0,1419.3 252.3,1398.3 252.3,1440.3" fill="#DE9B05"/>
<polygon points="349.8,691.2 386.1,670.2 386.1,712.2" fill="#DE9B05"/>
<polygon points="516.9,385.5 553.2,364.5 553.2,406.5" fill="#DE9B05"/>
<polygon points="684.0,296.0 720.4,275.0 720.4,317.0" fill="#DE9B05"/>
<polygon points="851.2,255.0 887.5,234.0 887.5,276.0" fill="#DE9B05"/>
<polygon points="1018.3,225.9 1054.6,204.9 1054.6,246.9" fill="#DE9B05"/>
<polygon points="1185.5,206.9 1221.8,185.9 1221.8,227.9" fill="#DE9B05"/>
<polygon points="1352.6,185.9 1388.9,164.9 1388.9,206.9" fill="#DE9B05"/>
<polygon points="1519.8,137.4 1556.1,116.4 1556.1,158.4" fill="#DE9B05"/>
<polygon points="1687.0,146.9 1723.2,125.9 1723.2,167.9" fill="#DE9B05"/>
<polygon points="1854.1,131.9 1890.4,110.9 1890.4,152.9" fill="#DE9B05"/>
<path d="M206.5,1434.5 L206.5,1434.5 L206.5,1434.5 L206.5,1434.5 L206.5,1434.5 L206.6,1434.5 L206.6,1434.5 L206.6,1434.4 L206.7,1434.4 L206.8,1434.4 L206.9,1434.3 L207.0,1434.3 L207.2,1434.2 L207.4,1434.1 L207.6,1434.0 L207.9,1433.9 L208.2,1433.7 L208.5,1433.6 L208.9,1433.4 L209.3,1433.2 L209.7,1433.0 L210.2,1432.8 L210.8,1432.5 L211.4,1432.3 L212.1,1432.0 L212.8,1431.6 L213.6,1431.2 L214.4,1430.7 L215.4,1430.0 L216.4,1429.0 L217.5,1427.8 L218.6,1426.2 L219.9,1424.3 L221.3,1421.9 L222.7,1419.1 L224.3,1415.7 L226.0,1411.7 L227.8,1407.1 L229.7,1401.9 L231.8,1395.9 L233.9,1389.1 L236.3,1381.4 L238.7,1372.9 L241.3,1363.5 L244.1,1353.1 L247.0,1341.6 L250.0,1329.0 L253.2,1315.4 L256.6,1300.5 L260.2,1284.4 L264.0,1267.1 L267.9,1248.8 L271.9,1229.5 L276.1,1209.3 L280.5,1188.2 L285.0,1166.5 L289.7,1144.0 L294.4,1121.0 L299.4,1097.4 L304.4,1073.5 L309.6,1049.2 L314.9,1024.7 L320.2,1000.0 L325.7,975.2 L331.3,950.4 L337.0,925.6 L342.8,901.1 L348.7,876.7 L354.7,852.7 L360.7,829.1 L366.8,806.0 L373.0,783.5 L379.2,761.6 L385.5,740.4 L391.9,720.0 L398.3,700.2 L404.7,681.2 L411.2,662.8 L417.8,645.0 L424.4,628.0 L431.0,611.5 L437.7,595.7 L444.4,580.4 L451.1,565.7 L457.9,551.7 L464.7,538.1 L471.6,525.1 L478.4,512.6 L485.3,500.7 L492.2,489.2 L499.1,478.2 L506.0,467.7 L513.0,457.6 L519.9,448.0 L526.9,438.8 L533.8,430.0 L540.8,421.5 L547.8,413.5 L554.7,405.8 L561.7,398.5 L568.7,391.5 L575.6,384.8 L582.6,378.5 L589.6,372.4 L596.5,366.6 L603.5,361.2 L610.4,355.9 L617.4,351.0 L624.4,346.3 L631.3,341.8 L638.3,337.5 L645.3,333.4 L652.2,329.6 L659.2,325.9 L666.2,322.3 L673.1,319.0 L680.1,315.8 L687.1,312.7 L694.0,309.7 L701.0,306.8 L708.0,304.1 L714.9,301.4 L721.9,298.8 L728.8,296.3 L735.8,293.9 L742.8,291.5 L749.7,289.2 L756.7,287.0 L763.7,284.8 L770.6,282.7 L777.6,280.7 L784.6,278.7 L791.5,276.8 L798.5,274.9 L805.5,273.1 L812.4,271.3 L819.4,269.6 L826.3,267.9 L833.3,266.2 L840.3,264.6 L847.2,263.0 L854.2,261.5 L861.2,259.9 L868.1,258.5 L875.1,257.0 L882.1,255.5 L889.0,254.1 L896.0,252.7 L903.0,251.3 L909.9,249.9 L916.9,248.6 L923.9,247.3 L930.8,246.0 L937.8,244.7 L944.7,243.4 L951.7,242.1 L958.7,240.9 L965.6,239.7 L972.6,238.5 L979.6,237.3 L986.5,236.2 L993.5,235.0 L1000.5,233.9 L1007.4,232.8 L1014.4,231.7 L1021.4,230.7 L1028.3,229.6 L1035.3,228.6 L1042.2,227.6 L1049.2,226.6 L1056.2,225.6 L1063.1,224.7 L1070.1,223.7 L1077.1,222.8 L1084.0,221.9 L1091.0,220.9 L1098.0,220.1 L1104.9,219.2 L1111.9,218.3 L1118.9,217.4 L1125.8,216.6 L1132.8,215.7 L1139.8,214.9 L1146.7,214.0 L1153.7,213.2 L1160.6,212.4 L1167.6,211.5 L1174.6,210.7 L1181.5,209.9 L1188.5,209.1 L1195.5,208.2 L1202.4,207.4 L1209.4,206.6 L1216.4,205.7 L1223.3,204.9 L1230.3,204.0 L1237.3,203.2 L1244.2,202.3 L1251.2,201.4 L1258.2,200.5 L1265.1,199.6 L1272.1,198.7 L1279.0,197.8 L1286.0,196.8 L1293.0,195.8 L1299.9,194.8 L1306.9,193.7 L1313.9,192.6 L1320.8,191.5 L1327.8,190.4 L1334.8,189.2 L1341.7,188.0 L1348.7,186.7 L1355.7,185.5 L1362.6,184.1 L1369.6,182.7 L1376.5,181.3 L1383.5,179.8 L1390.5,178.3 L1397.4,176.8 L1404.4,175.2 L1411.4,173.6 L1418.3,172.0 L1425.3,170.4 L1432.3,168.7 L1439.2,167.1 L1446.2,165.5 L1453.2,163.9 L1460.1,162.3 L1467.1,160.7 L1474.1,159.2 L1481.0,157.7 L1488.0,156.3 L1494.9,154.9 L1501.9,153.5 L1508.9,152.3 L1515.8,151.1 L1522.8,149.9 L1529.8,148.9 L1536.7,147.9 L1543.7,147.1 L1550.7,146.3 L1557.6,145.6 L1564.6,145.1 L1571.6,144.6 L1578.5,144.1 L1585.5,143.8 L1592.5,143.5 L1599.4,143.3 L1606.4,143.1 L1613.3,143.0 L1620.3,142.9 L1627.3,142.8 L1634.2,142.8 L1641.2,142.8 L1648.2,142.9 L1655.1,142.9 L1662.1,142.9 L1669.1,143.0 L1676.0,143.0 L1683.0,143.0 L1690.0,143.0 L1696.9,143.0 L1703.9,142.9 L1710.8,142.8 L1717.8,142.7 L1724.8,142.5 L1731.7,142.3 L1738.6,142.0 L1745.4,141.8 L1752.2,141.5 L1758.9,141.1 L1765.5,140.8 L1772.1,140.4 L1778.5,140.0 L1784.8,139.6 L1790.9,139.2 L1797.0,138.8 L1802.8,138.4 L1808.5,137.9 L1814.0,137.5 L1819.3,137.1 L1824.5,136.6 L1829.4,136.2 L1834.0,135.8 L1838.4,135.4 L1842.6,135.1 L1846.5,134.7 L1850.1,134.4 L1853.5,134.1 L1856.5,133.8 L1859.3,133.6 L1861.9,133.3 L1864.2,133.1 L1866.2,133.0 L1868.1,132.8 L1869.7,132.6 L1871.2,132.5 L1872.5,132.4 L1873.6,132.3 L1874.5,132.2 L1875.3,132.1 L1876.0,132.1 L1876.5,132.0 L1877.0,132.0 L1877.3,132.0 L1877.6,131.9 L1877.7,131.9 L1877.9,131.9 L1877.9,131.9 L1878.0,131.9 L1878.0,131.9 L1878.0,131.9" fill="none" stroke="#DE9B05" stroke-width="5" stroke-linejoin="round"/>
</g>
<g fill="#000">
<rect x="203" y="52" width="7" height="1386"/>
<rect x="1875" y="52" width="6" height="1386"/>
<rect x="203" y="52" width="1678" height="6"/>
<rect x="203" y="1431" width="1678" height="7"/>
<rect x="210" y="1294" width="13" height="6"/>
<rect x="210" y="1156" width="28" height="6"/>
<rect x="210" y="1018" width="13" height="6"/>
<rect x="210" y="880" width="28" height="6"/>
<rect x="210" y="742" width="13" height="6"/>
<rect x="210" y="604" width="28" height="6"/>
<rect x="210" y="466" width="13" height="6"/>
<rect x="210" y="328" width="28" height="6"/>
<rect x="210" y="190" width="13" height="6"/>
<rect x="371" y="1419" width="6" height="12"/>
<rect x="538" y="1404" width="6" height="27"/>
<rect x="705" y="1419" width="6" height="12"/>
<rect x="872" y="1404" width="6" height="27"/>
<rect x="1039" y="1419" width="6" height="12"/>
<rect x="1206" y="1404" width="6" height="27"/>
<rect x="1374" y="1419" width="6" height="12"/>
<rect x="1541" y="1404" width="6" height="27"/>
<rect x="1708" y="1419" width="6" height="12"/>
</g>
<g font-family="'Liberation Serif', 'Times New Roman', serif" font-size="72" fill="#000">
<text font-size="71" transform="translate(206.9,1522.5) scale(0.92,1)" text-anchor="middle">0.0</text>
<text font-size="71" transform="translate(541.2,1522.5) scale(0.92,1)" text-anchor="middle">0.2</text>
<text font-size="71" transform="translate(875.5,1522.5) scale(0.92,1)" text-anchor="middle">0.4</text>
<text font-size="71" transform="translate(1209.8,1522.5) scale(0.92,1)" text-anchor="middle">0.6</text>
<text font-size="71" transform="translate(1544.1,1522.5) scale(0.92,1)" text-anchor="middle">0.8</text>
<text font-size="71" transform="translate(1878.4,1522.5) scale(0.92,1)" text-anchor="middle">1.0</text>
<text font-size="71" transform="translate(172.8,1455.3) scale(0.92,1)" text-anchor="end">0.0</text>
<text font-size="71" transform="translate(172.8,1179.4) scale(0.92,1)" text-anchor="end">0.1</text>
<text font-size="71" transform="translate(172.8,903.5) scale(0.92,1)" text-anchor="end">0.2</text>
<text font-size="71" transform="translate(172.8,627.6) scale(0.92,1)" text-anchor="end">0.3</text>
<text font-size="71" transform="translate(172.8,351.7) scale(0.92,1)" text-anchor="end">0.4</text>
<text font-size="71" transform="translate(172.8,75.8) scale(0.92,1)" text-anchor="end">0.5</text>
<text transform="translate(1042.5,1575) scale(0.93,1)" text-anchor="middle">T/s</text>
<text font-size="70" transform="translate(72.8,743.8) rotate(-90) scale(0.969,1)" text-anchor="middle">Cavitation bubbles volume fraction</text>
<line x1="1553.2" y1="946.4" x2="1702.4" y2="946.4" stroke="#737373" stroke-width="5" stroke-linecap="round"/>
<rect x="1612.8" y="930.1" width="30.8" height="32" fill="#737373"/>
<text transform="translate(1720.8,969.0) scale(0.905,1)">80°</text>
<line x1="1553.2" y1="1029.5" x2="1702.4" y2="1029.5" stroke="#FD3C3C" stroke-width="5" stroke-linecap="round"/>
<circle cx="1628.2" cy="1029.5" r="17.5" fill="#FD3C3C"/>
<text transform="translate(1720.8,1052.1) scale(0.905,1)">85°</text>
<line x1="1553.2" y1="1112.6" x2="1702.4" y2="1112.6" stroke="#006AE0" stroke-width="5" stroke-linecap="round"/>
<polygon points="1628.2,1088.1 1607.8,1123.7 1648.6,1123.7" fill="#006AE0"/>
<text transform="translate(1718.5,1135.2) scale(0.905,1)">90°</text>
<line x1="1553.2" y1="1195.6" x2="1702.4" y2="1195.6" stroke="#00AC6A" stroke-width="5" stroke-linecap="round"/>
<polygon points="1628.2,1219.3 1607.8,1183.7 1648.6,1183.7" fill="#00AC6A"/>
<text transform="translate(1718.5,1218.2) scale(0.905,1)">95°</text>
<line x1="1553.2" y1="1278.0" x2="1702.4" y2="1278.0" stroke="#C179E0" stroke-width="4.2" stroke-linecap="round"/>
<polygon points="1628.2,1255.9 1650.3,1278.0 1628.2,1300.1 1606.1,1278.0" fill="#C179E0"/>
<text transform="translate(1721.4,1300.6) scale(0.905,1)">100°</text>
<line x1="1553.2" y1="1361.0" x2="1702.4" y2="1361.0" stroke="#DE9B05" stroke-width="4.2" stroke-linecap="round"/>
<polygon points="1604.5,1361.0 1640.1,1340.6 1640.1,1381.4" fill="#DE9B05"/>
<text transform="translate(1721.4,1383.6) scale(0.905,1)">105°</text>
</g>
</svg>
</body></html>
